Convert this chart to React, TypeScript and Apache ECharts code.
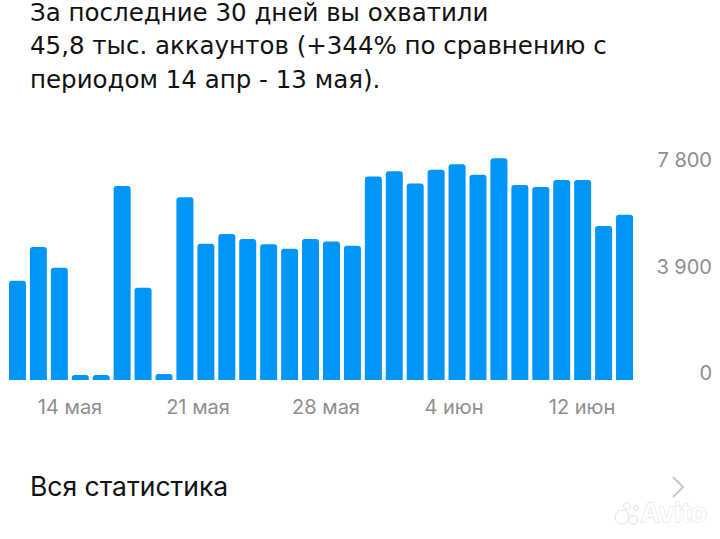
import React, { useEffect, useRef } from "react";
import * as echarts from "echarts";

const titleLines = [
  "За последние 30 дней вы охватили",
  "45,8 тыс. аккаунтов (+344% по сравнению с",
  "периодом 14 апр - 13 мая).",
];

const days = [
  "14 мая", "15 мая", "16 мая", "17 мая", "18 мая", "19 мая", "20 мая", "21 мая",
  "22 мая", "23 мая", "24 мая", "25 мая", "26 мая", "27 мая", "28 мая", "29 мая",
  "30 мая", "31 мая", "1 июн", "2 июн", "3 июн", "4 июн", "5 июн", "6 июн",
  "7 июн", "8 июн", "9 июн", "10 июн", "11 июн", "12 июн",
];

const reach = [
  3630, 4870, 4110, 180, 180, 7100, 3380, 220, 6690, 4990,
  5350, 5160, 4970, 4810, 5160, 5070, 4920, 7450, 7640, 7200,
  7700, 7900, 7520, 8120, 7140, 7070, 7320, 7320, 5640, 6050,
];

const xTickLabels = ["14 мая", "21 мая", "28 мая", "4 июн", "12 июн"];
const yMax = 7800;
const yStep = 3900;

const linkText = "Вся статистика";
const watermark = "Avito";

const FONT = "Inter, Roboto, 'Noto Sans', sans-serif";
const TITLE_FONT = "'DejaVu Sans', Inter, sans-serif";

function fmt(v: number): string {
  return String(v).replace(/\B(?=(\d{3})+(?!\d))/g, " ");
}

export default function App() {
  const ref = useRef<HTMLDivElement>(null);
  useEffect(() => {
    if (!ref.current) return;
    const chart = echarts.init(ref.current, null, { renderer: "svg" });
    chart.setOption({
      animation: false,
      backgroundColor: "#ffffff",
      grid: [
        { left: 7, right: 85, top: 167, bottom: 159 },
        { left: 6, right: 74, top: 167, bottom: 159 },
      ],
      xAxis: [
        {
          type: "category",
          gridIndex: 0,
          data: days,
          axisLine: { show: false },
          axisTick: { show: false },
          axisLabel: { show: false },
        },
        {
          type: "category",
          gridIndex: 1,
          data: xTickLabels,
          axisLine: { show: false },
          axisTick: { show: false },
          axisLabel: {
            color: "#8e8e8e",
            fontSize: 20,
            fontFamily: FONT,
            margin: 17,
            interval: 0,
          },
        },
      ],
      yAxis: [
        {
          type: "value",
          gridIndex: 0,
          position: "right",
          min: 0,
          max: yMax,
          interval: yStep,
          splitLine: { show: false },
          axisLine: { show: false },
          axisTick: { show: false },
          axisLabel: {
            color: "#8e8e8e",
            fontSize: 20,
            lineHeight: 14,
            fontFamily: FONT,
            align: "right",
            verticalAlign: "bottom",
            margin: 77,
            formatter: (v: number) => fmt(v),
          },
        },
        {
          type: "value",
          gridIndex: 1,
          show: false,
        },
      ],
      series: [
        {
          type: "bar",
          xAxisIndex: 0,
          yAxisIndex: 0,
          data: reach,
          barWidth: 17,
          clip: false,
          itemStyle: { color: "#0095f6", borderRadius: [3, 3, 0, 0] },
        },
      ],
      graphic: [
        ...titleLines.map((t, i) => ({
          type: "text",
          left: 30,
          top: i * 33.4,
          style: {
            text: t,
            fontSize: 24.5,
            fontFamily: TITLE_FONT,
            fill: "#111111",
          },
        })),
        {
          type: "text",
          left: 30,
          top: 472,
          style: { text: linkText, fontSize: 26.5, fontFamily: FONT, fill: "#111111" },
        },
        {
          type: "polyline",
          shape: { points: [[673, 477], [683, 487], [673, 497]] },
          style: { stroke: "#c7c7cc", lineWidth: 2, fill: "none" },
        },
        { type: "circle", shape: { cx: 622, cy: 517, r: 7 }, style: { fill: "#ffffff", stroke: "#e2e2e2", lineWidth: 1 } },
        { type: "circle", shape: { cx: 633, cy: 520, r: 4.5 }, style: { fill: "#ffffff", stroke: "#e2e2e2", lineWidth: 1 } },
        { type: "circle", shape: { cx: 627, cy: 506, r: 3.5 }, style: { fill: "#ffffff", stroke: "#e2e2e2", lineWidth: 1 } },
        { type: "circle", shape: { cx: 636, cy: 508, r: 2.5 }, style: { fill: "#ffffff", stroke: "#e2e2e2", lineWidth: 1 } },
        {
          type: "text",
          left: 640,
          top: 499,
          style: {
            text: watermark,
            fontSize: 27,
            fontWeight: "bold",
            fontFamily: "'Liberation Sans', Arial, sans-serif",
            fill: "#ffffff",
            stroke: "#dcdcdc",
            lineWidth: 1,
          },
        },
      ],
    });
    return () => chart.dispose();
  }, []);
  return (
    <div
      ref={ref}
      style={{ position: "fixed", left: 0, top: 0, width: 720, height: 539, background: "#fff" }}
    />
  );
}
